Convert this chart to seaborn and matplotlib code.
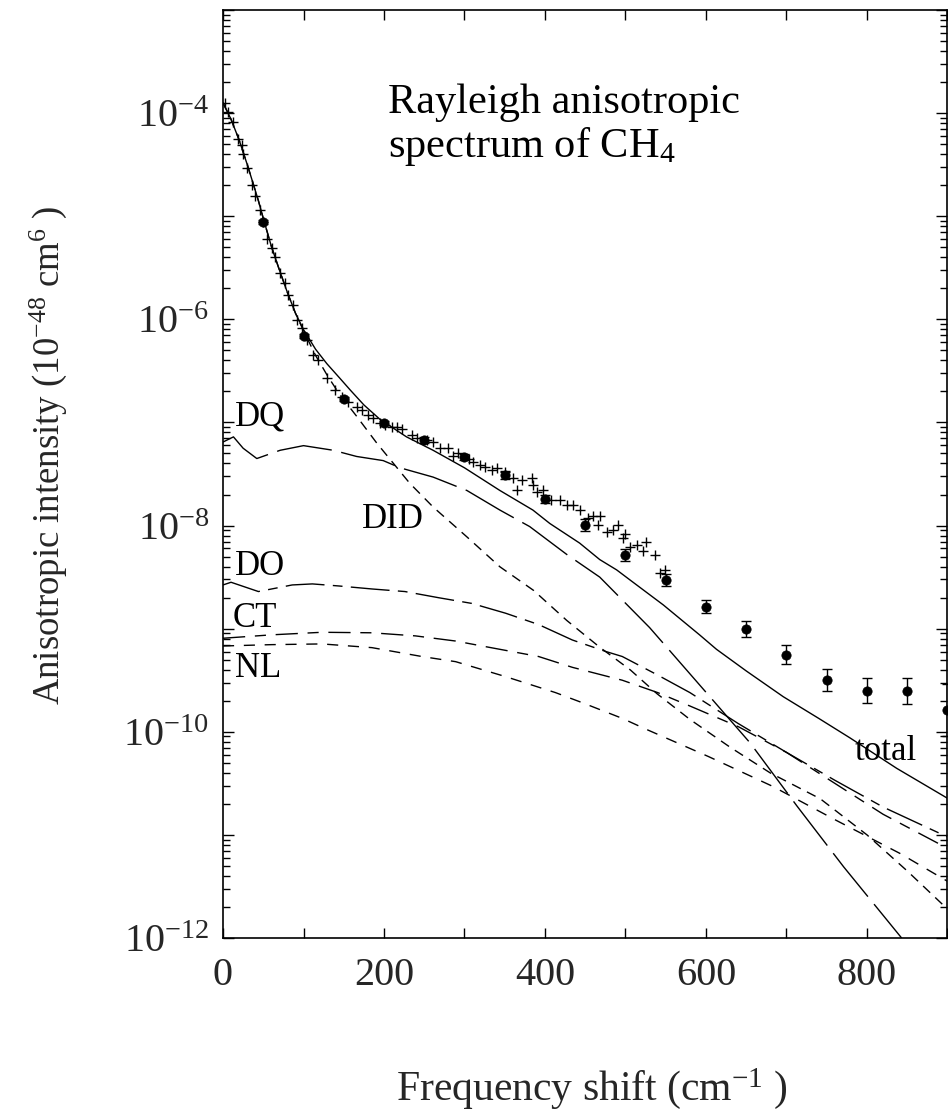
import numpy as np
import matplotlib
matplotlib.use("Agg")
import matplotlib.pyplot as plt
import matplotlib.ticker as mticker
import seaborn as sns

# ---------------- data (log10 of intensity) ----------------
total_x = [0, 10, 20, 31, 44, 50, 60, 70, 80, 90, 100, 115, 129, 145, 158, 175, 195, 228,
           261, 300, 344, 385, 406, 443, 468, 489, 506, 547, 592, 613, 650, 696, 740, 779, 837, 900]
total_log = [-3.90, -4.06, -4.26, -4.52, -4.85, -5.02, -5.29, -5.52, -5.74, -5.94, -6.10, -6.29,
             -6.43, -6.57, -6.685, -6.83, -6.97, -7.14, -7.27, -7.44, -7.66, -7.85, -7.98, -8.17,
             -8.33, -8.43, -8.53, -8.77, -9.06, -9.20, -9.41, -9.66, -9.87, -10.06, -10.355, -10.645]

did_x = [0, 10, 20, 31, 44, 50, 60, 70, 80, 90, 100, 115, 130, 145, 166, 191, 212, 232, 261, 303,
         344, 386, 427, 468, 506, 539, 580, 630, 680, 742, 800, 850, 900]
did_log = [-3.90, -4.06, -4.26, -4.52, -4.85, -5.02, -5.29, -5.52, -5.74, -5.94, -6.11, -6.35,
           -6.55, -6.73, -6.94, -7.20, -7.40, -7.59, -7.82, -8.11, -8.40, -8.63, -8.92, -9.18,
           -9.40, -9.63, -9.88, -10.15, -10.40, -10.65, -11.00, -11.35, -11.72]

dq_x = [0, 13, 25, 42, 71, 100, 137, 166, 199, 220, 261, 303, 344, 381, 427, 468, 530, 597,
        655, 713, 771, 843]
dq_log = [-7.19, -7.14, -7.25, -7.35, -7.27, -7.225, -7.27, -7.33, -7.37, -7.44, -7.53, -7.66,
          -7.85, -8.01, -8.28, -8.50, -8.99, -9.59, -10.11, -10.72, -11.31, -12.0]

do_x = [0, 10, 44, 86, 111, 144, 185, 226, 268, 309, 351, 392, 434, 475, 496, 540, 580, 640,
        700, 760, 820, 900]
do_log = [-8.576, -8.55, -8.64, -8.576, -8.566, -8.586, -8.615, -8.64, -8.70, -8.755, -8.85,
          -8.96, -9.11, -9.22, -9.27, -9.45, -9.62, -9.92, -10.20, -10.47, -10.73, -11.02]

ct_x = [0, 60, 123, 185, 239, 289, 330, 392, 434, 496, 540, 580, 640, 700, 760, 820, 900]
ct_log = [-9.093, -9.06, -9.035, -9.04, -9.07, -9.12, -9.18, -9.27, -9.375, -9.50, -9.62,
          -9.75, -9.95, -10.20, -10.50, -10.80, -11.13]

nl_x = [0, 60, 123, 185, 247, 289, 351, 413, 447, 496, 524, 603, 683, 762, 841, 900]
nl_log = [-9.168, -9.155, -9.148, -9.184, -9.27, -9.32, -9.465, -9.62, -9.72, -9.87, -9.97,
          -10.24, -10.53, -10.86, -11.18, -11.45]

# experimental points (crosses)
cross_x = [2.5, 6.6, 12.8, 19, 23, 25.2, 29.4, 35.6, 39.8, 46, 50, 54.3, 60.5, 64.6, 70.8, 77,
           81, 87.3, 91.6, 97.8, 104, 112, 118.4, 128.8, 139, 147.5, 155.7, 166, 172.3, 180.5,
           186.7, 195, 201, 209.6, 215.8, 222, 234.4, 240.6, 253, 261, 269.6, 280, 286.3, 292.4,
           305, 311, 319, 325.5, 333.8, 340, 350, 360.6, 364.8, 371, 383.5, 385.5, 389.7, 398,
           408, 418.6, 427, 435, 443.5, 453.8, 460, 468.3, 466.3, 476.6, 485, 491, 497, 499.4,
           505.6, 513.9, 522, 526, 537, 543, 549]
cross_log = [-3.904, -3.985, -4.09, -4.25, -4.31, -4.40, -4.53, -4.70, -4.80, -4.94,
             -5.06, -5.22, -5.31, -5.40, -5.553, -5.65, -5.76, -5.86, -6.006, -6.086, -6.20,
             -6.345, -6.394, -6.571, -6.685, -6.75, -6.80, -6.847, -6.879, -6.927, -6.96, -7.008,
             -7.024, -7.04, -7.04, -7.066, -7.12, -7.154, -7.17, -7.192, -7.25, -7.25, -7.33,
             -7.30, -7.35, -7.38, -7.41, -7.43, -7.46, -7.44, -7.48, -7.54, -7.655, -7.56, -7.54,
             -7.606, -7.67, -7.655, -7.75, -7.75, -7.80, -7.80, -7.85, -7.93, -7.91, -7.91, -7.99,
             -8.06, -8.04, -7.99, -8.12, -8.08, -8.205, -8.19, -8.25, -8.16, -8.285, -8.46, -8.43]

# experimental points with error bars (filled circles)
circ_x = [50, 100, 150, 200, 250, 300, 350, 400, 450, 500, 550, 600, 650, 700, 750, 800, 850, 900]
circ_log = [-5.052, -6.161, -6.775, -7.008, -7.172, -7.332, -7.51, -7.745, -7.994, -8.285,
            -8.528, -8.787, -9.006, -9.255, -9.498, -9.60, -9.60, -9.79]
circ_err_log = [0.02, 0.02, 0.02, 0.02, 0.03, 0.03, 0.04, 0.04, 0.06, 0.06, 0.06, 0.065, 0.076,
                0.092, 0.105, 0.118, 0.126, 0.25]

x_ticks = [0, 200, 400, 600, 800]
x_minor = [100, 300, 500, 700, 900]
y_decades = list(range(-12, -2))
y_labelled = [-12, -10, -8, -6, -4]

# ---------------- style ----------------
sns.set_theme(style="ticks")
plt.rcParams['font.family'] = ['Liberation Serif', 'DejaVu Serif']
plt.rcParams['mathtext.default'] = 'regular'
plt.rcParams['axes.linewidth'] = 1.2

fig = plt.figure(figsize=(9.48, 11.09), dpi=100)
ax = fig.add_axes([223 / 948, 171 / 1109, 724.5 / 948, 928 / 1109])
ax.set_yscale('log')

def curve(x, lg, ls):
    sns.lineplot(x=np.array(x, float), y=10.0 ** np.array(lg), ax=ax, color='black',
                 linewidth=1.0, linestyle=ls, estimator=None, sort=False)

curve(total_x, total_log, '-')
curve(did_x, did_log, (0, (7, 5)))
curve(dq_x, dq_log, (0, (40, 7)))
curve(do_x, do_log, (0, (28, 6, 7, 6)))
curve(ct_x, ct_log, (0, (16, 7, 8, 7)))
curve(nl_x, nl_log, (0, (8, 7)))

cy = 10.0 ** np.array(circ_log)
ce = np.array(circ_err_log)
lower = cy - cy * 10.0 ** (-ce)
upper = cy * 10.0 ** ce - cy
ax.errorbar(circ_x, cy, yerr=[lower, upper], fmt='none', ecolor='black', elinewidth=1.0,
            capsize=3.5, capthick=1.0)
sns.scatterplot(x=circ_x, y=cy, ax=ax, marker='o', s=45, color='black', edgecolor='black',
                linewidth=0.5)
sns.scatterplot(x=cross_x, y=10.0 ** np.array(cross_log), ax=ax, marker='+', s=45,
                color='black', linewidth=1.0)

ax.set_xlim(0, 900)
ax.set_ylim(1e-12, 1e-3)

ax.xaxis.set_major_locator(mticker.FixedLocator(x_ticks))
ax.xaxis.set_minor_locator(mticker.FixedLocator(x_minor))
ax.xaxis.set_major_formatter(mticker.FixedFormatter([str(v) for v in x_ticks]))
ax.yaxis.set_major_locator(mticker.FixedLocator([10.0 ** e for e in y_decades]))
ax.yaxis.set_minor_locator(mticker.LogLocator(base=10, subs=np.arange(2, 10), numticks=20))

def yfmt(v, pos):
    e = int(round(np.log10(v)))
    return r'$10^{%d}$' % e if e in y_labelled else ''

ax.yaxis.set_major_formatter(mticker.FuncFormatter(yfmt))
ax.yaxis.set_minor_formatter(mticker.NullFormatter())

ax.tick_params(which='both', direction='in', top=True, right=True, color='black', width=1.0)
ax.tick_params(axis='x', which='both', length=7, labelsize=29, pad=14)
ax.tick_params(axis='y', which='major', length=8, labelsize=29, pad=10)
ax.tick_params(axis='y', which='minor', length=5)

ax.set_xlabel('Frequency shift (cm$^{-1}$ )', fontsize=30)
ax.xaxis.set_label_coords(0.509, -0.138)
ax.set_ylabel('Anisotropic intensity (10$^{-48}$ cm$^{6}$ )', fontsize=26.5)
ax.yaxis.set_label_coords(-0.213, 0.52)

tkw = dict(transform=ax.transAxes, ha='left', va='baseline', color='black')
ax.text(0.2277, 0.889, 'Rayleigh anisotropic', fontsize=30.5, **tkw)
ax.text(0.2277, 0.8416, 'spectrum of CH$_4$', fontsize=30.5, **tkw)
ax.text(0.0166, 0.5528, 'DQ', fontsize=25, **tkw)
ax.text(0.1914, 0.4415, 'DID', fontsize=25, **tkw)
ax.text(0.0166, 0.3912, 'DO', fontsize=25, **tkw)
ax.text(0.0138, 0.3355, 'CT', fontsize=25, **tkw)
ax.text(0.0166, 0.2816, 'NL', fontsize=25, **tkw)
ax.text(0.8723, 0.1918, 'total', fontsize=25, **tkw)

for s in ax.spines.values():
    s.set_color('black')

fig.savefig('out.png', dpi=100, facecolor='white')
